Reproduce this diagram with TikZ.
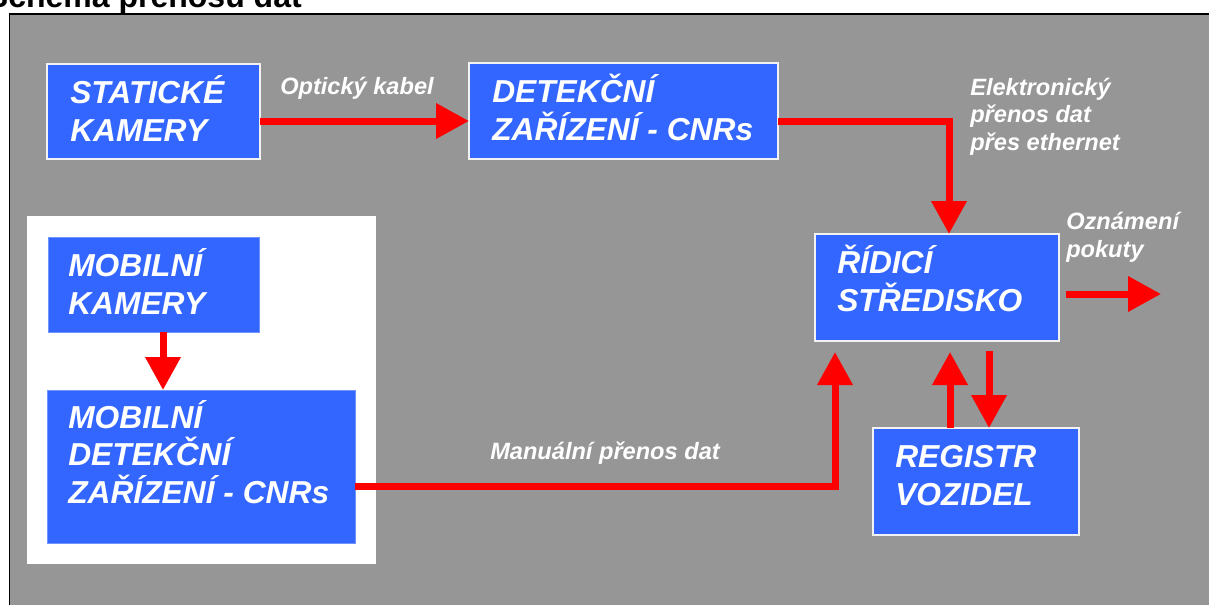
\documentclass[tikz,border=0pt]{standalone}
\usepackage{fontspec}
\setmainfont{Liberation Sans}
\usetikzlibrary{arrows.meta,calc}

\definecolor{panelgray}{RGB}{150,150,150}
\definecolor{boxblue}{RGB}{51,102,255}
\definecolor{flowred}{RGB}{255,0,0}

\tikzset{
  blockbox/.style={rectangle, fill=boxblue, draw=white!90!gray, line width=1.1pt,
    inner sep=0pt, outer sep=0pt, anchor=north west},
  mobilebox/.style={blockbox, draw=boxblue!70!white, line width=0.6pt},
  % captions are placed by the baseline of their last line
  blocktext/.style={text=white, font=\fontsize{23.8}{28.1}\selectfont\bfseries\itshape,
    align=left, anchor=base west, inner sep=0pt},
  flowlabel/.style={text=white, font=\fontsize{17.7}{20.6}\selectfont\bfseries\itshape,
    align=left, anchor=base west, inner sep=0pt},
  flow/.style={draw=flowred, line width=5.25pt,
    -{Triangle[width=25.5pt,length=24.75pt]}},
}

\begin{document}
\begin{tikzpicture}[x=0.75pt, y=-0.75pt]
\useasboundingbox (0,0) rectangle (1209,604);
\clip (0,0) rectangle (1209,604);

% heading and grey drawing area
\node[anchor=base east, inner sep=0pt, font=\fontsize{24}{29}\selectfont\bfseries]
  (heading) at (302,7.5) {Schéma přenosu dat};
\path[fill=panelgray, draw=black, line width=1.3pt] (9.5,14) rectangle (1240,640);

% white area holding the mobile devices
\path[fill=white] (27,216) rectangle (376,564);

% blocks
\node[blockbox, minimum width=159.75pt, minimum height=71.25pt] (stat) at (47,64) {};
\node[blockbox, minimum width=231.75pt, minimum height=72pt] (det) at (469,63) {};
\node[blockbox, minimum width=183pt, minimum height=80.25pt] (ridic) at (815,234) {};
\node[blockbox, minimum width=154.5pt, minimum height=80.25pt] (reg) at (873,428) {};
\node[mobilebox, minimum width=158.25pt, minimum height=71.25pt] (mobcam) at (48,237) {};
\node[mobilebox, minimum width=231pt, minimum height=114.75pt] (mobdet) at (47,390) {};

% block captions
\node[blocktext] (stat-t) at ($(stat.north west)+(23,77)$) {STATICKÉ\\KAMERY};
\node[blocktext] (det-t) at ($(det.north west)+(23,77)$) {DETEKČNÍ\\ZAŘÍZENÍ - CNRs};
\node[blocktext] (ridic-t) at ($(ridic.north west)+(22,77)$) {ŘÍDICÍ\\STŘEDISKO};
\node[blocktext] (reg-t) at ($(reg.north west)+(22,77)$) {REGISTR\\VOZIDEL};
\node[blocktext] (mobcam-t) at ($(mobcam.north west)+(20,77)$) {MOBILNÍ\\KAMERY};
\node[blocktext] (mobdet-t) at ($(mobdet.north west)+(21,113)$) {MOBILNÍ\\DETEKČNÍ\\ZAŘÍZENÍ - CNRs};

% data flows
\draw[flow] ($(stat.east)+(0,9.5)$) coordinate (o1) -- (o1 -| det.west);
\draw[flow] ($(det.east)+(0,10)$) -| ($(ridic.north west)+(134,0)$);
\draw[flow] ($(mobcam.south)+(9.5,0)$) coordinate (m1) -- (m1 |- mobdet.north);
\draw[flow] ($(mobdet.east)+(0,19.5)$) -| ($(ridic.south west)+(20,11)$);
\draw[flow] ($(reg.north west)+(77,0)$) -- ($(ridic.south west)+(135,11)$);
\draw[flow] ($(ridic.south west)+(174,10)$) -- ($(reg.north west)+(116,0)$);
\coordinate (fine) at (1161,294);
\draw[flow] ($(ridic.east)+(7,6.5)$) -- (fine);

% flow labels
\node[flowlabel] (lab-opt) at (280,94) {Optický kabel};
\node[flowlabel] (lab-eth) at (970,150) {Elektronický\\přenos dat\\přes ethernet};
\node[flowlabel] (lab-fine) at (1066,257) {Oznámení\\pokuty};
\node[flowlabel] (lab-man) at (490,459) {Manuální přenos dat};
\end{tikzpicture}
\end{document}
